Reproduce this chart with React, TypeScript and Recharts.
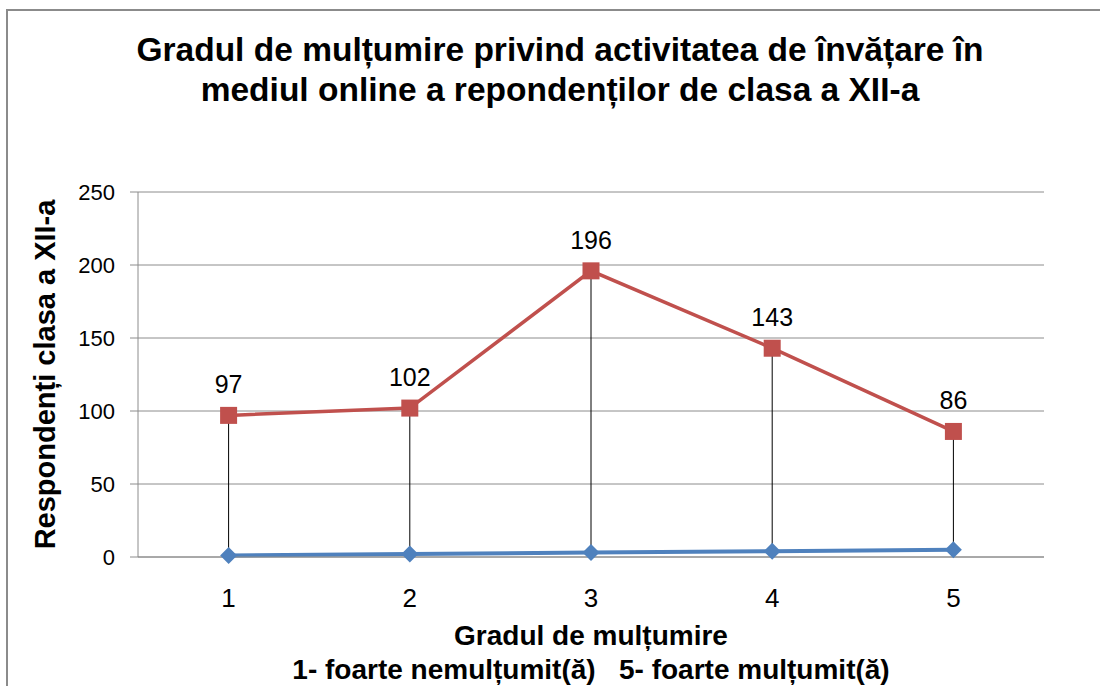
import { LineChart, Line, XAxis, YAxis, CartesianGrid, LabelList, ErrorBar } from "recharts";

// datele graficului
const categories = ["1", "2", "3", "4", "5"];
const gradValues = [1, 2, 3, 4, 5];
const respondentValues = [97, 102, 196, 143, 86];
const yTicks = [0, 50, 100, 150, 200, 250];

const data = categories.map((c, i) => ({
  grad: c,
  low: gradValues[i],
  resp: respondentValues[i],
  drop: [0, respondentValues[i] - gradValues[i]],
}));

const FONT = '"Liberation Sans", Arial, sans-serif';
const GRID = "#8c8c8c";

const Square = (props: any) => {
  const { cx, cy } = props;
  if (cx == null || cy == null) return null;
  return <rect x={cx - 8.5} y={cy - 8.5} width={17} height={17} fill="#C0504D" />;
};

const Diamond = (props: any) => {
  const { cx, cy } = props;
  if (cx == null || cy == null) return null;
  return (
    <polygon
      points={`${cx},${cy - 8.5} ${cx + 8.5},${cy} ${cx},${cy + 8.5} ${cx - 8.5},${cy}`}
      fill="#4F81BD"
    />
  );
};

export default function App() {
  return (
    <div
      style={{
        position: "fixed",
        left: 0,
        top: 0,
        width: 1100,
        height: 686,
        overflow: "hidden",
        background: "#fff",
        fontFamily: FONT,
        color: "#000",
      }}
    >
      {/* chenarul exterior, taiat in dreapta si jos */}
      <div
        style={{
          position: "absolute",
          left: 6,
          top: 9,
          width: 1200,
          height: 800,
          borderTop: "2px solid #8b8b8b",
          borderLeft: "2px solid #8b8b8b",
        }}
      />
      <div
        style={{
          position: "absolute",
          left: 0,
          top: 30,
          width: 1120,
          textAlign: "center",
          fontWeight: "bold",
          fontSize: 33.5,
          lineHeight: "40px",
        }}
      >
        Gradul de mulțumire privind activitatea de învățare în
        <br />
        mediul online a repondenților de clasa a XII-a
      </div>

      <div style={{ position: "absolute", left: 0, top: 0 }}>
        <LineChart width={1100} height={686} data={data} margin={{ top: 192, right: 56, bottom: 89, left: 0 }}>
          <CartesianGrid vertical={false} stroke={GRID} />
          <XAxis
            dataKey="grad"
            scale="band"
            height={40}
            axisLine={{ stroke: GRID }}
            tickLine={false}
            tickSize={0}
            tickMargin={32}
            tick={{ fontSize: 26, fill: "#000" }}
          />
          <YAxis
            width={138}
            domain={[0, 250]}
            ticks={yTicks}
            axisLine={{ stroke: GRID }}
            tickLine={{ stroke: GRID }}
            tickSize={8}
            tickMargin={15}
            tick={{ fontSize: 22, fill: "#000" }}
            label={{
              value: "Respondenți clasa a XII-a",
              angle: -90,
              position: "insideLeft",
              offset: 45,
              style: { textAnchor: "middle", fontSize: 29, fontWeight: "bold", fill: "#000" },
            }}
          />
          <Line
            dataKey="low"
            stroke="#4F81BD"
            strokeWidth={4}
            dot={Diamond}
            activeDot={false}
            isAnimationActive={false}
          />
          <Line
            dataKey="resp"
            stroke="#C0504D"
            strokeWidth={3.5}
            dot={Square}
            activeDot={false}
            isAnimationActive={false}
          >
            <LabelList dataKey="resp" position="top" offset={22} style={{ fontSize: 25, fill: "#000" }} />
          </Line>
          {/* liniile verticale dintre serii */}
          <Line dataKey="low" stroke="none" dot={false} activeDot={false} isAnimationActive={false}>
            <ErrorBar dataKey="drop" direction="y" width={0} stroke="#000" strokeWidth={1} />
          </Line>
        </LineChart>
      </div>

      <div
        style={{
          position: "absolute",
          left: 138,
          top: 619,
          width: 906,
          textAlign: "center",
          fontWeight: "bold",
          fontSize: 28,
          lineHeight: "34px",
          whiteSpace: "pre",
        }}
      >
        Gradul de mulțumire
        <br />
        {"1- foarte nemulțumit(ă)   5- foarte mulțumit(ă)"}
      </div>
    </div>
  );
}
